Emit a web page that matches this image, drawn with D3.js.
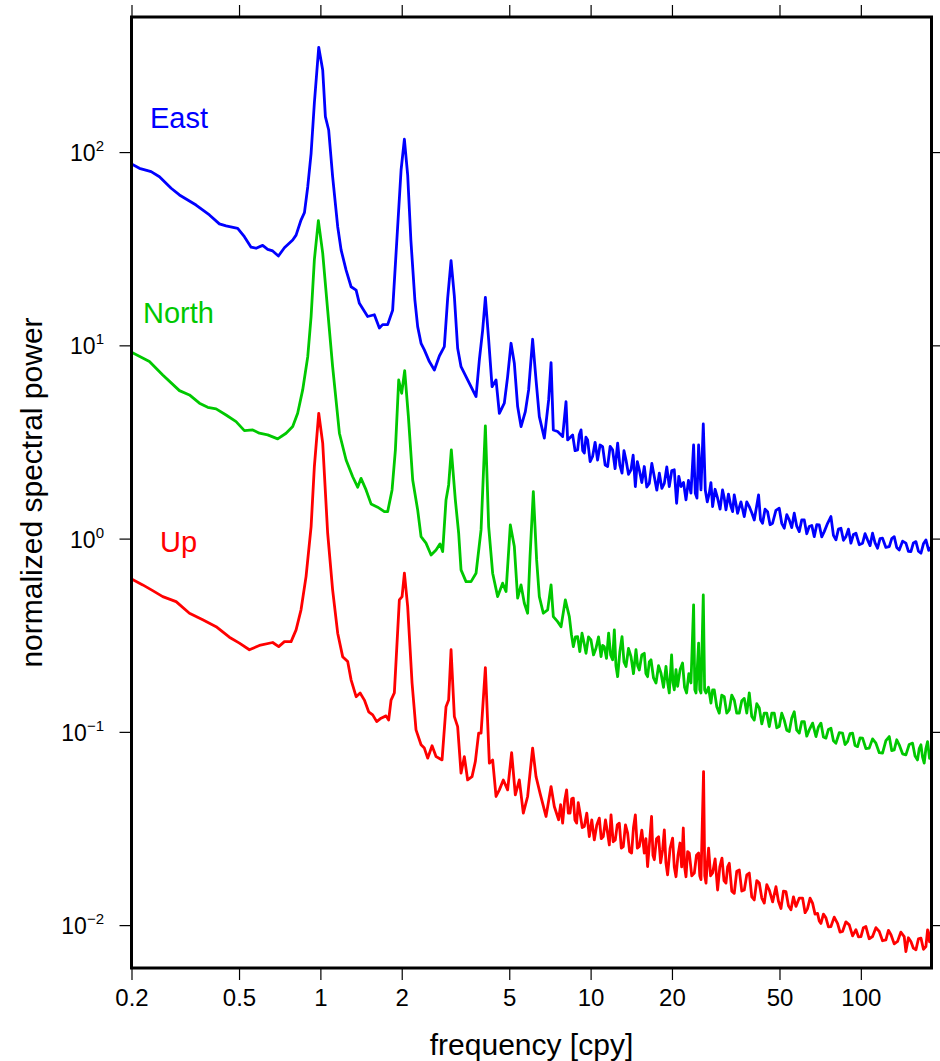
<!DOCTYPE html>
<html><head><meta charset="utf-8">
<script src="https://cdn.jsdelivr.net/npm/d3@7"></script>
<style>html,body{margin:0;padding:0;background:#fff;}svg{display:block;}</style>
</head><body>
<svg id="chart" width="940" height="1061"></svg>
<script>
const eastFreq = [0.2,0.214,0.2364,0.2538,0.2804,0.3009,0.3467,0.3885,0.4229,0.4477,
0.4943,0.5233,0.554,0.5782,0.6115,0.6383,0.6661,0.6992,0.736,0.79,
0.813,0.848,0.873,0.898,0.924,0.95,0.986,1.02,1.0435,1.0733,
1.11,1.159,1.193,1.245,1.299,1.356,1.394,1.496,1.584,1.653,
1.70,1.774,1.851,1.906,1.989,2.046,2.104,2.162,2.237,2.291,
2.358,2.425,2.531,2.641,2.756,2.875,2.958,3.045,3.132,3.221,
3.315,3.459,3.61,3.767,3.875,3.986,4.079,4.195,4.318,4.467,
4.595,4.794,4.931,5.076,5.221,5.37,5.528,5.734,5.897,6.101,
6.281,6.46,6.742,6.994,7.139,7.278,7.55,7.879,8.11,8.222,
8.58,8.76,8.953,9.08,9.216,9.35,9.478,9.61,9.748,9.96,
10.17,10.39,10.61,10.84,11.08,11.32,11.56,11.81,12.06,12.32,
12.59,12.83,13.07,13.29,13.52,13.81,14.11,14.37,14.64,14.89,
15.14,15.47,15.8,16.14,16.49,16.85,17.21,17.58,17.96,18.35,
18.74,19.14,19.55,19.97,20.4,20.81,21.2,21.6,22.07,22.54,
23.02,23.52,24.05,24.4,24.75,25.1,25.61,26.12,26.57,27.02,
27.49,27.88,28.28,28.89,29.51,30.14,30.78,31.23,31.69,32.37,
33.07,33.54,34.01,34.49,34.98,36.0,37.04,37.84,38.65,39.48,
40.33,41.08,41.83,42.55,43.28,44.21,45.16,46.14,47.13,48.5,
49.89,50.97,52.07,53.2,54.34,55.5,56.7,57.92,59.17,60.45,
61.75,63.08,64.44,65.83,67.24,68.69,70.17,71.68,73.22,75.34,
77.51,79.18,80.89,82.63,84.41,86.23,88.08,89.97,91.9,93.88,
95.9,98.66,101.5,103.68,105.9,108.18,110.5,112.87,115.3,117.78,
120.3,123.8,127.4,130.12,132.9,135.77,138.7,142.7,146.8,149.97,
153.2,156.5,159.9,163.37,166.9,170.46,174.1,178.3,182.6];
const eastPower = [86.8,82.4,79.2,74.6,65.0,60.0,53.2,47.3,42.5,41.5,
40.3,36.5,32.2,31.8,32.9,31.4,30.8,29.0,32.0,35.1,
37.2,44.5,48.6,66.2,98.6,179.5,348.5,265.9,152.5,130.1,
74.6,41.1,31.2,24.5,20.1,19.3,16.5,14.1,14.4,12.3,
12.8,12.8,15.2,30.1,80.8,116.5,76.1,35.1,17.2,12.5,
10.25,9.47,8.24,7.46,8.81,9.85,17.5,27.4,17.9,9.66,
7.76,6.89,6.11,5.43,8.40,12.0,17.7,10.7,6.11,6.62,
4.45,5.02,6.89,10.25,8.08,4.82,3.80,4.54,5.88,10.75,
6.62,4.28,3.31,5.22,8.14,3.65,3.58,3.37,5.11,3.24,
3.44,2.85,2.88,3.45,3.65,2.85,2.77,3.35,3.24,2.50,
2.66,3.15,2.55,3.05,2.99,2.40,2.36,3.00,2.88,2.30,
3.12,2.40,2.18,2.85,2.55,2.15,2.27,2.70,1.86,2.50,
2.27,1.95,2.36,1.85,1.93,2.45,2.09,1.78,2.18,1.82,
1.93,2.35,1.86,2.25,2.27,1.524,2.10,1.86,1.95,1.586,
2.00,1.718,3.05,1.718,1.62,3.05,1.786,3.92,1.786,1.55,
1.718,1.95,1.464,1.80,1.618,1.42,1.786,1.62,1.408,1.70,
1.464,1.38,1.683,1.52,1.353,1.55,1.300,1.55,1.464,1.36,
1.249,1.45,1.683,1.25,1.201,1.42,1.379,1.18,1.201,1.40,
1.437,1.20,1.132,1.33,1.249,1.14,1.353,1.16,1.087,1.25,
1.249,1.06,1.154,1.17,1.024,1.18,1.177,1.02,1.087,1.20,
1.300,1.04,0.985,1.12,1.132,0.98,1.024,1.12,0.947,1.05,
1.066,0.93,0.947,1.06,0.985,0.92,1.066,0.95,0.892,1.00,
1.005,0.90,0.909,1.00,1.024,0.90,0.874,0.97,0.947,0.86,
0.857,0.95,0.965,0.86,0.840,0.94,0.985,0.87,0.909];

const northFreq = [0.2,0.233,0.261,0.3009,0.3277,0.3568,0.3829,0.4113,0.4477,0.4876,
0.5233,0.5619,0.5946,0.6383,0.695,0.7466,0.79,0.824,0.86,0.898,
0.924,0.95,0.983,1.02,1.064,1.11,1.176,1.245,1.317,1.374,
1.414,1.476,1.54,1.629,1.725,1.774,1.842,1.895,1.949,1.999,
2.051,2.117,2.196,2.291,2.358,2.46,2.568,2.679,2.772,2.835,
2.917,2.983,3.052,3.158,3.249,3.315,3.459,3.61,3.767,3.932,
4.079,4.195,4.34,4.529,4.725,4.864,5.046,5.221,5.37,5.528,
5.685,5.847,5.968,6.138,6.313,6.46,6.683,6.935,7.139,7.278,
7.55,7.773,8.062,
8.342,8.49,8.63,8.79,8.953,9.12,9.294,9.45,9.616,9.82,
10.03,10.25,10.47,10.7,10.93,11.08,11.24,11.45,11.66,11.86,
12.06,12.24,12.41,12.59,12.83,13.07,13.29,13.52,13.81,14.11,
14.41,14.72,14.93,15.14,15.47,15.8,16.02,16.25,16.49,16.73,
17.09,17.46,17.84,18.22,18.61,19.01,19.28,19.55,19.94,20.17,
20.4,20.7,20.99,21.44,21.89,22.27,22.66,23.09,23.52,24.05,
24.3,24.55,25.1,25.35,25.61,26.12,26.42,26.73,27.3,27.88,
28.28,28.68,29.3,29.93,30.57,31.23,31.9,32.6,33.3,34.01,
34.74,35.49,36.26,37.04,37.84,38.65,39.48,40.33,41.2,42.09,
43.0,43.92,44.87,45.83,46.82,47.82,48.85,49.89,50.97,52.07,
53.19,54.34,55.51,56.7,57.92,59.17,60.45,61.75,63.08,64.44,
66.3,68.22,69.68,71.18,72.71,74.28,75.88,77.51,79.18,80.89,
83.2,85.56,87.4,89.29,91.21,93.18,95.18,97.23,99.34,101.5,
104.4,107.4,110.5,113.7,117.0,120.3,123.8,127.4,130.1,132.9,
135.8,138.7,142.7,146.8,151.0,155.4,158.7,162.1,164.5,166.9,
169.2,171.6,174.1,176.6,179.6,182.6];
const northPower = [9.21,8.24,7.03,5.83,5.54,5.02,4.78,4.69,4.36,4.03,
3.62,3.65,3.51,3.44,3.28,3.51,3.80,4.45,5.88,8.74,
14.1,27.7,44.2,30.0,15.2,7.76,3.51,2.55,2.09,1.845,
2.05,1.786,1.512,1.454,1.379,1.379,1.786,2.88,6.62,5.65,
7.40,4.28,2.01,1.408,1.024,0.947,0.823,0.874,0.939,0.857,
1.586,1.896,2.88,1.586,1.066,0.689,0.599,0.599,0.662,1.109,
3.83,1.154,0.662,0.501,0.588,0.532,1.177,0.909,0.492,0.576,
0.463,0.411,0.807,1.751,0.776,0.501,0.411,0.428,0.576,0.395,
0.372,0.350,0.482,
0.395,0.32,0.276,0.31,0.311,0.26,0.324,0.29,0.255,0.31,
0.299,0.25,0.271,0.31,0.245,0.28,0.276,0.24,0.324,0.25,
0.236,0.337,0.22,0.193,0.26,0.311,0.23,0.218,0.27,0.245,
0.20,0.266,0.22,0.209,0.25,0.255,0.20,0.193,0.23,0.236,
0.19,0.179,0.22,0.201,0.17,0.218,0.18,0.159,0.250,0.18,
0.165,0.21,0.172,0.21,0.227,0.17,0.159,0.20,0.179,0.454,
0.165,0.159,0.288,0.165,0.159,0.511,0.165,0.159,0.17,0.141,
0.165,0.165,0.135,0.125,0.155,0.152,0.125,0.130,0.155,0.146,
0.125,0.125,0.145,0.149,0.125,0.159,0.12,0.115,0.14,0.133,
0.11,0.125,0.125,0.1065,0.125,0.125,0.105,0.1065,0.125,0.115,
0.102,0.1004,0.118,0.127,0.102,0.0985,0.113,0.113,0.095,0.1024,
0.111,0.0946,0.106,0.111,0.094,0.0928,0.103,0.1045,0.090,0.0874,
0.099,0.0985,0.086,0.0891,0.098,0.0985,0.085,0.0839,0.093,0.0928,
0.082,0.0824,0.092,0.0874,0.078,0.0776,0.090,0.0946,0.080,0.0807,
0.091,0.0857,0.077,0.0760,0.086,0.0874,0.075,0.0716,0.082,0.0857,
0.074,0.0689,0.082,0.0891,0.073,0.0788];

const upFreq = [0.2,0.2201,0.2396,0.261,0.2925,0.3277,0.367,0.4113,0.4605,0.5016,
0.5461,0.5946,0.6661,0.7011,0.736,0.779,0.813,0.848,0.885,0.924,
0.95,0.986,1.02,1.064,1.11,1.159,1.209,1.262,1.299,1.356,
1.403,1.455,1.509,1.562,1.616,1.677,1.75,1.789,1.826,1.878,
1.96,2.006,2.046,2.104,2.184,2.259,2.358,2.425,2.495,2.59,
2.679,2.82,2.917,2.983,3.045,3.132,3.221,3.315,3.41,3.507,
3.641,3.745,3.852,3.932,4.079,4.22,4.34,4.467,4.595,4.753,
4.931,5.102,5.265,5.448,5.636,5.847,6.101,6.281,6.498,6.839,
7.139,7.34,
7.614,7.745,7.879,8.015,8.152,8.27,8.391,8.51,8.63,8.75,
8.878,9.0,9.138,9.31,9.478,9.68,9.89,10.1,10.32,10.54,
10.77,10.95,11.14,11.35,11.56,11.73,11.9,12.12,12.34,12.55,
12.77,12.99,13.21,13.46,13.71,13.94,14.18,14.41,14.64,14.89,
15.14,15.47,15.8,16.02,16.25,16.53,16.81,17.01,17.21,17.53,
17.85,18.16,18.47,18.74,19.0,19.27,19.69,20.11,20.4,20.7,
21.06,21.42,21.72,22.03,22.28,22.54,22.86,23.18,23.68,24.2,
24.65,25.1,25.35,25.61,26.18,26.45,26.73,27.03,27.33,27.8,
28.28,28.89,29.51,30.07,30.63,31.16,31.69,32.14,32.6,33.3,
34.01,34.74,35.49,36.26,37.04,37.84,38.65,39.48,40.33,41.2,
42.09,43.0,43.92,44.87,45.83,47.16,48.52,49.56,50.63,51.72,
52.84,53.97,55.13,56.32,57.53,59.18,60.87,62.18,63.52,64.88,
66.27,67.7,69.16,70.16,71.18,72.71,74.28,75.88,77.51,79.7,
81.99,83.76,85.56,88.05,90.6,93.21,95.9,97.98,100.1,102.2,
104.4,107.4,110.5,113.7,117.0,120.3,123.8,126.5,129.3,132.9,
136.7,140.6,144.7,146.8,149.97,153.2,156.5,159.9,163.4,166.9,
170.5,174.1,176.6,179.6,182.6];
const upPower = [0.619,0.576,0.538,0.501,0.472,0.411,0.380,0.350,0.309,0.288,
0.266,0.280,0.290,0.276,0.293,0.293,0.337,0.428,0.636,1.154,
2.36,4.45,3.12,1.066,0.543,0.324,0.245,0.231,0.186,0.152,
0.159,0.146,0.127,0.1224,0.113,0.1177,0.121,0.115,0.146,0.159,
0.482,0.501,0.662,0.445,0.179,0.1024,0.0857,0.0824,0.0731,0.0847,
0.0745,0.0716,0.135,0.146,0.266,0.120,0.1065,0.0611,0.0745,0.0564,
0.0587,0.0702,0.0985,0.0985,0.215,0.0689,0.0716,0.0463,0.0501,0.0564,
0.0501,0.0781,0.0472,0.0564,0.0380,0.0463,0.0824,0.0587,0.0482,0.0365,
0.0521,0.0411,
0.0351,0.042,0.0337,0.044,0.0501,0.038,0.0380,0.045,0.0454,0.035,
0.0337,0.043,0.0380,0.032,0.0324,0.038,0.0287,0.035,0.0276,0.033,
0.0358,0.028,0.0287,0.035,0.0299,0.026,0.0372,0.027,0.0276,0.033,
0.0337,0.025,0.0255,0.033,0.0299,0.024,0.0236,0.032,0.0372,0.025,
0.0255,0.031,0.0236,0.028,0.0201,0.027,0.0365,0.023,0.0218,0.028,
0.0287,0.021,0.0245,0.0311,0.021,0.0182,0.025,0.0282,0.020,0.0178,
0.023,0.0266,0.020,0.0318,0.020,0.0178,0.024,0.0236,0.018,0.0186,
0.023,0.0236,0.018,0.0172,0.0623,0.018,0.0165,0.021,0.0250,0.018,
0.0186,0.022,0.0152,0.020,0.0222,0.017,0.0165,0.020,0.0209,0.015,
0.0146,0.019,0.0193,0.015,0.0152,0.0182,0.0186,0.014,0.0135,0.017,
0.0165,0.0138,0.0130,0.0162,0.0152,0.0132,0.0158,0.0133,0.0122,0.0150,
0.0149,0.0126,0.0120,0.0140,0.0125,0.0138,0.0138,0.0116,0.0122,0.0138,
0.0130,0.0114,0.0115,0.0105,0.0102,0.0114,0.0109,0.0098,0.00983,0.0110,
0.0102,0.0092,0.00927,0.0104,0.01003,0.0088,0.00946,0.0087,0.00873,0.0097,
0.00983,0.0085,0.00873,0.0097,0.00927,0.0083,0.00839,0.0094,0.00891,0.0080,
0.00823,0.0092,0.00873,0.0073,0.0086,0.00823,0.0076,0.00745,0.0085,0.00857,
0.0075,0.00775,0.00946,0.0082,0.00967];

const seriesNames = ["East", "North", "Up"];
const seriesColors = ["#0000ff", "#00c800", "#ff0000"];
const xTicks = [0.2, 0.5, 1, 2, 5, 10, 20, 50, 100];
const xTickLabels = ["0.2", "0.5", "1", "2", "5", "10", "20", "50", "100"];
const yTicks = [0.01, 0.1, 1, 10, 100];
const yTickExponents = ["\u22122", "\u22121", "0", "1", "2"];
const xTitle = "frequency [cpy]";
const yTitle = "normalized spectral power";

const svg = d3.select("#chart");
const L = 131.5, R = 931.5, T = 17, B = 968;
const x = d3.scaleLog().domain([0.2, 182.6]).range([L, R]);
const y = d3.scaleLog().domain([0.006, 500]).range([B, T]);

const font = "'Liberation Sans', Arial, Helvetica, sans-serif";

svg.append("defs").append("clipPath").attr("id", "clip")
  .append("rect").attr("x", L).attr("y", T).attr("width", R - L).attr("height", B - T);

const series = [
  d3.zip(eastFreq, eastPower),
  d3.zip(northFreq, northPower),
  d3.zip(upFreq, upPower)
];

const line = d3.line().x(d => x(d[0])).y(d => y(d[1]));
const g = svg.append("g").attr("clip-path", "url(#clip)");
series.forEach((s, i) => {
  g.append("path").datum(s)
    .attr("d", line)
    .attr("fill", "none")
    .attr("stroke", seriesColors[i])
    .attr("stroke-width", 2.8)
    .attr("stroke-linejoin", "round");
});

const tickLen = 12;
const axB = d3.axisBottom(x).tickValues(xTicks).tickFormat((d, i) => xTickLabels[i]).tickSize(tickLen).tickPadding(9);
const axT = d3.axisTop(x).tickValues(xTicks).tickFormat("").tickSize(tickLen);
const axL = d3.axisLeft(y).tickValues(yTicks).tickFormat("").tickSize(tickLen);
const axR = d3.axisRight(y).tickValues(yTicks).tickFormat("").tickSize(tickLen);

function styleAxis(sel) {
  sel.select(".domain").remove();
  sel.selectAll(".tick line").attr("stroke", "#000").attr("stroke-width", 1.2);
}
const gB = svg.append("g").attr("transform", `translate(0,${B})`).call(axB).call(styleAxis);
gB.selectAll(".tick text").attr("font-family", font).attr("font-size", 24).attr("fill", "#000");
svg.append("g").attr("transform", `translate(0,${T})`).call(axT).call(styleAxis);
svg.append("g").attr("transform", `translate(${L},0)`).call(axL).call(styleAxis);
svg.append("g").attr("transform", `translate(${R},0)`).call(axR).call(styleAxis);

const yl = svg.append("g");
yTicks.forEach((v, i) => {
  const t = yl.append("text")
    .attr("x", 104).attr("y", y(v) + 9)
    .attr("text-anchor", "end")
    .attr("font-family", font).attr("font-size", 23).attr("fill", "#000");
  t.append("tspan").text("10");
  t.append("tspan").attr("font-size", 15).attr("dy", -10).text(yTickExponents[i]);
});

svg.append("rect").attr("x", L).attr("y", T).attr("width", R - L).attr("height", B - T)
  .attr("fill", "none").attr("stroke", "#000").attr("stroke-width", 3);

svg.append("text").attr("x", (L + R) / 2).attr("y", 1055)
  .attr("text-anchor", "middle").attr("font-family", font).attr("font-size", 30)
  .text(xTitle);
svg.append("text").attr("transform", `translate(42,${(T + B) / 2}) rotate(-90)`)
  .attr("text-anchor", "middle").attr("font-family", font).attr("font-size", 30)
  .text(yTitle);

const labelPos = [[150, 128], [143, 323], [160, 552]];
seriesNames.forEach((n, i) => {
  svg.append("text").attr("x", labelPos[i][0]).attr("y", labelPos[i][1])
    .attr("font-family", font).attr("font-size", 29).attr("fill", seriesColors[i])
    .text(n);
});
</script>
</body></html>
